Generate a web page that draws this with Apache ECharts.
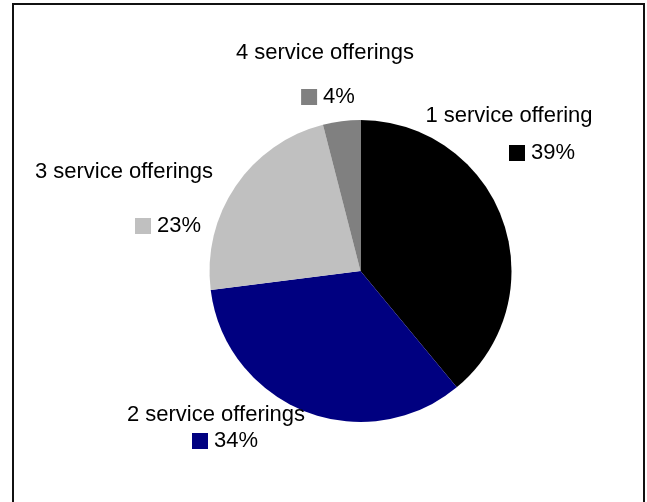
<!DOCTYPE html>
<html>
<head>
<meta charset="utf-8">
<script src="https://cdn.jsdelivr.net/npm/echarts@6/dist/echarts.min.js"></script>
<style>
  html, body { margin: 0; padding: 0; background: #fff; }
  #chart { width: 647px; height: 502px; }
</style>
</head>
<body>
<div id="chart"></div>
<script>
// Share of respondents by number of service offerings
const categories = ['1 service offering', '2 service offerings', '3 service offerings', '4 service offerings'];
const shares = [39, 34, 23, 4];
const sliceColors = ['#000000', '#000080', '#C0C0C0', '#808080'];

// Label anchor points (centre of each text block), in pixels
const nameAnchors = [[509, 116], [216, 415], [124, 172], [325, 53]];
const valueAnchors = [[542, 153], [225, 441], [168, 226], [328, 97]];

const FONT = '"Liberation Sans", Arial, sans-serif';
const FONT_SIZE = 22;
const pieData = categories.map((c, i) => ({ name: c, value: shares[i] }));

const squareRich = {};
sliceColors.forEach((c, i) => {
  squareRich['s' + i] = { width: 16, height: 16, backgroundColor: c };
});
squareRich.v = { fontSize: FONT_SIZE, fontFamily: FONT, color: '#000', padding: [0, 0, 0, 6] };

const chart = echarts.init(document.getElementById('chart'), null, { renderer: 'canvas' });
chart.setOption({
  backgroundColor: '#ffffff',
  animation: false,
  color: sliceColors,
  graphic: [{
    type: 'rect',
    shape: { x: 13, y: 4, width: 631, height: 520 },
    style: { fill: 'none', stroke: '#111', lineWidth: 2 },
    silent: true
  }],
  series: [
    {
      type: 'pie',
      center: [360.5, 271],
      radius: 151,
      startAngle: 90,
      clockwise: true,
      data: pieData,
      itemStyle: { borderWidth: 0 },
      label: {
        show: true,
        formatter: '{b}',
        fontSize: FONT_SIZE,
        fontFamily: FONT,
        color: '#000',
        overflow: 'none'
      },
      labelLine: { show: false },
      labelLayout: p => ({
        x: nameAnchors[p.dataIndex][0],
        y: nameAnchors[p.dataIndex][1],
        align: 'center',
        verticalAlign: 'middle',
        width: 260
      }),
      emphasis: { disabled: true },
      silent: true
    },
    {
      // value labels with colour key squares
      type: 'pie',
      center: [360.5, 271],
      radius: 151,
      startAngle: 90,
      clockwise: true,
      data: pieData,
      itemStyle: { color: 'rgba(0,0,0,0)', borderWidth: 0 },
      label: {
        show: true,
        opacity: 1,
        overflow: 'none',
        formatter: p => '{s' + p.dataIndex + '|}{v|' + p.percent + '%}',
        rich: squareRich
      },
      labelLine: { show: false },
      labelLayout: p => ({
        x: valueAnchors[p.dataIndex][0],
        y: valueAnchors[p.dataIndex][1],
        align: 'center',
        verticalAlign: 'middle',
        width: 120
      }),
      emphasis: { disabled: true },
      silent: true
    }
  ]
});
</script>
</body>
</html>
